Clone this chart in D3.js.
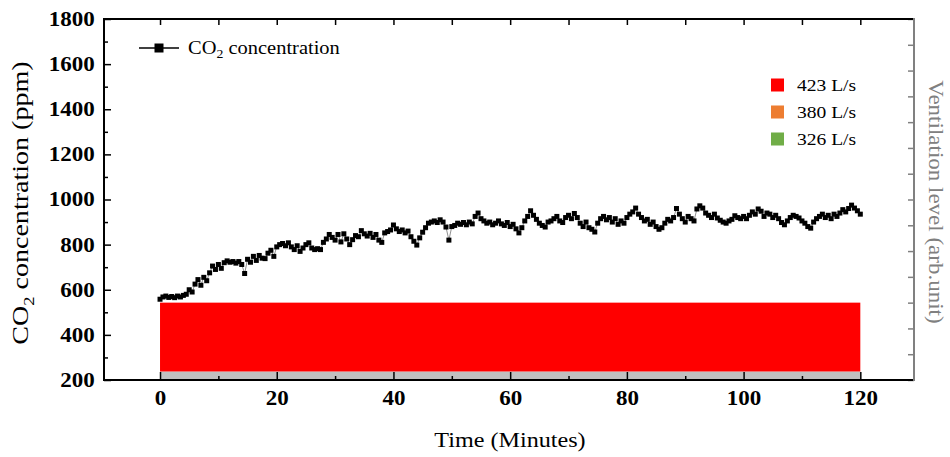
<!DOCTYPE html>
<html>
<head>
<meta charset="utf-8">
<script src="https://cdn.jsdelivr.net/npm/d3@7"></script>
<style>
  body { margin: 0; background: #fff; }
  svg { display: block; font-family: 'Liberation Serif', 'Times New Roman', serif; }
</style>
</head>
<body>
<div id="chart"></div>
<script>
// CO2 readings every 0.5 min, 0..120
let times = d3.range(0, 120.5, 0.5)
let co2 = [
  558, 568, 572, 566, 570, 565, 572, 568, 575, 580,
  600, 590, 625, 645, 620, 655, 640, 675, 705, 690,
  712, 695, 720, 728, 722, 725, 718, 725, 712, 672,
  735, 722, 748, 730, 752, 740, 738, 762, 775, 748,
  790, 800, 805, 795, 808, 790, 778, 795, 770, 785,
  800, 808, 785, 778, 782, 778, 810, 825, 845, 832,
  820, 845, 812, 848, 825, 800, 822, 840, 835, 862,
  848, 838, 850, 832, 845, 820, 810, 852, 858, 865,
  887, 870, 858, 865, 852, 860, 835, 815, 798, 830,
  855, 875, 895, 900, 905, 898, 910, 900, 878, 820,
  880, 885, 895, 890, 898, 888, 900, 892, 925, 940,
  915, 905, 895, 900, 888, 895, 905, 892, 885, 898,
  880, 890, 870, 852, 875, 905, 925, 950, 930, 912,
  895, 885, 878, 900, 905, 915, 925, 905, 898, 920,
  930, 915, 938, 920, 895, 880, 900, 875, 868, 856,
  895, 915, 925, 910, 920, 900, 915, 890, 905, 895,
  920, 935, 945, 962, 935, 920, 905, 912, 890, 900,
  880, 868, 875, 895, 912, 905, 920, 960, 935, 915,
  900, 925, 915, 905, 958, 972, 962, 940, 930, 920,
  935, 918, 908, 900, 895, 905, 912, 928, 920, 915,
  925, 915, 930, 945, 935, 958, 948, 925, 940, 935,
  920, 930, 915, 898, 888, 905, 920, 930, 925, 918,
  905, 895, 880, 873, 900, 915, 925, 935, 920, 930,
  915, 935, 925, 940, 955, 945, 960, 975, 962, 950,
  935
]

// ventilation (right axis, arb. unit)
let ventStart = [0]
let ventEnd = [120]
let ventLevel = [3]
let ventColor = ['#ff0000']
let baseLevel = 0.33

let flowLabels = ['423 L/s', '380 L/s', '326 L/s']
let flowColors = ['#ff0000', '#ed7d31', '#70ad47']

let xTicks = [0, 20, 40, 60, 80, 100, 120]
let yTicks = [200, 400, 600, 800, 1000, 1200, 1400, 1600, 1800]

let width = 950,
  height = 457,
  pLeft = 104,
  pRight = 914,
  pTop = 19,
  pBottom = 380,
  stretch = 1.15

let svg = d3.select('#chart').append('svg')
  .attr('width', width)
  .attr('height', height)

let x = d3.scaleLinear().domain([-9.6, 129.2]).range([pLeft, pRight])
let y = d3.scaleLinear().domain([200, 1800]).range([pBottom, pTop])
let yR = d3.scaleLinear().domain([0, 14]).range([pBottom, pTop])

// grey base band
svg.append('rect')
  .attr('x', x(0))
  .attr('y', yR(baseLevel))
  .attr('width', x(120) - x(0))
  .attr('height', yR(0) - yR(baseLevel))
  .attr('fill', '#c0c0c0')

// ventilation bars
svg.selectAll('.vent')
  .data(ventLevel)
  .enter().append('rect')
  .attr('class', 'vent')
  .attr('x', (d, i) => x(ventStart[i]))
  .attr('y', d => yR(d))
  .attr('width', (d, i) => x(ventEnd[i]) - x(ventStart[i]))
  .attr('height', d => yR(baseLevel) - yR(d))
  .attr('fill', (d, i) => ventColor[i])

function styleAxis (g, color) {
  g.select('.domain').remove()
  g.selectAll('line').attr('stroke', color).attr('stroke-width', 1.5)
}

// bottom axis
svg.append('g')
  .attr('transform', 'translate(0,' + pBottom + ')')
  .call(d3.axisBottom(x).tickValues(d3.range(10, 120, 20)).tickSize(-4).tickFormat(''))
  .call(g => styleAxis(g, '#000'))

let xAxis = svg.append('g')
  .attr('transform', 'translate(0,' + pBottom + ')')
  .call(d3.axisBottom(x).tickValues(xTicks).tickSize(-8).tickPadding(11).tickFormat(d3.format('d')))
  .call(g => styleAxis(g, '#000'))
xAxis.selectAll('text')
  .attr('font-size', 20)
  .attr('font-weight', 'bold')
  .attr('font-family', 'Liberation Serif')
  .attr('fill', '#000')
  .attr('transform', 'scale(' + stretch + ',1)')

// top axis
svg.append('g')
  .attr('transform', 'translate(0,' + pTop + ')')
  .call(d3.axisTop(x).tickValues(d3.range(0, 121, 10)).tickSize(-6).tickFormat(''))
  .call(g => styleAxis(g, '#000'))

// left axis
svg.append('g')
  .attr('transform', 'translate(' + pLeft + ',0)')
  .call(d3.axisLeft(y).tickValues(d3.range(300, 1800, 200)).tickSize(-4).tickFormat(''))
  .call(g => styleAxis(g, '#000'))

let yAxis = svg.append('g')
  .attr('transform', 'translate(' + pLeft + ',0)')
  .call(d3.axisLeft(y).tickValues(yTicks).tickSize(-7).tickPadding(8).tickFormat(d3.format('d')))
  .call(g => styleAxis(g, '#000'))
yAxis.selectAll('text')
  .attr('font-size', 20)
  .attr('font-weight', 'bold')
  .attr('font-family', 'Liberation Serif')
  .attr('fill', '#000')
  .attr('transform', 'scale(' + stretch + ',1)')

// right axis
svg.append('g')
  .attr('transform', 'translate(' + pRight + ',0)')
  .call(d3.axisRight(yR).ticks(14).tickSize(-6).tickFormat(''))
  .call(g => styleAxis(g, '#808080'))

// frame
svg.append('path')
  .attr('d', 'M' + pRight + ',' + pTop + 'H' + pLeft + 'V' + pBottom + 'H' + pRight)
  .attr('fill', 'none')
  .attr('stroke', '#000')
  .attr('stroke-width', 2)
svg.append('line')
  .attr('x1', pRight).attr('x2', pRight)
  .attr('y1', pTop - 1).attr('y2', pBottom + 1)
  .attr('stroke', '#808080')
  .attr('stroke-width', 2)

// CO2 series
let line = d3.line()
  .x((d, i) => x(times[i]))
  .y(d => y(d))

svg.append('path')
  .datum(co2)
  .attr('d', line)
  .attr('fill', 'none')
  .attr('stroke', '#444')
  .attr('stroke-width', 0.6)

svg.selectAll('.pt')
  .data(co2)
  .enter().append('rect')
  .attr('class', 'pt')
  .attr('x', (d, i) => x(times[i]) - 2.5)
  .attr('y', d => y(d) - 2.5)
  .attr('width', 5)
  .attr('height', 5)
  .attr('fill', '#000')

// axis titles
function stretchedText (px, py, rot, size, color, sx) {
  return svg.append('text')
    .attr('transform', 'translate(' + px + ',' + py + ') rotate(' + rot + ') scale(' + (sx || stretch) + ',1)')
    .attr('text-anchor', 'middle')
    .attr('font-size', size)
    .attr('fill', color)
}

let yTitle = stretchedText(28, 203, -90, 23, '#000', 1.22)
yTitle.append('tspan').text('CO')
yTitle.append('tspan').text('2').attr('font-size', 15).attr('dy', 6)
yTitle.append('tspan').text(' concentration (ppm)').attr('dy', -6)

stretchedText(929, 202, 90, 20, '#808080')
  .text('Ventilation level (arb.unit)')

stretchedText(510, 447, 0, 21, '#000')
  .text('Time (Minutes)')

// legend: CO2
let lg = svg.append('g').attr('transform', 'translate(139,48)')
lg.append('line').attr('x1', 0).attr('x2', 40).attr('stroke', '#000').attr('stroke-width', 1.5)
lg.append('rect').attr('x', -4.5 + 20).attr('y', -4.5).attr('width', 9).attr('height', 9).attr('fill', '#000')
let lt = lg.append('text')
  .attr('transform', 'translate(49,6) scale(' + stretch + ',1)')
  .attr('font-size', 17.8)
lt.append('tspan').text('CO')
lt.append('tspan').text('2').attr('font-size', 12).attr('dy', 4)
lt.append('tspan').text(' concentration').attr('dy', -4)

// legend: ventilation flows
let fl = svg.selectAll('.flow')
  .data(flowLabels)
  .enter().append('g')
  .attr('class', 'flow')
  .attr('transform', (d, i) => 'translate(771,' + (85 + i * 27) + ')')
fl.append('rect')
  .attr('x', 0).attr('y', -6.5).attr('width', 13).attr('height', 13)
  .attr('fill', (d, i) => flowColors[i])
fl.append('text')
  .attr('transform', 'translate(26,6) scale(' + stretch + ',1)')
  .attr('font-size', 17)
  .text(d => d)
</script>
</body>
</html>
